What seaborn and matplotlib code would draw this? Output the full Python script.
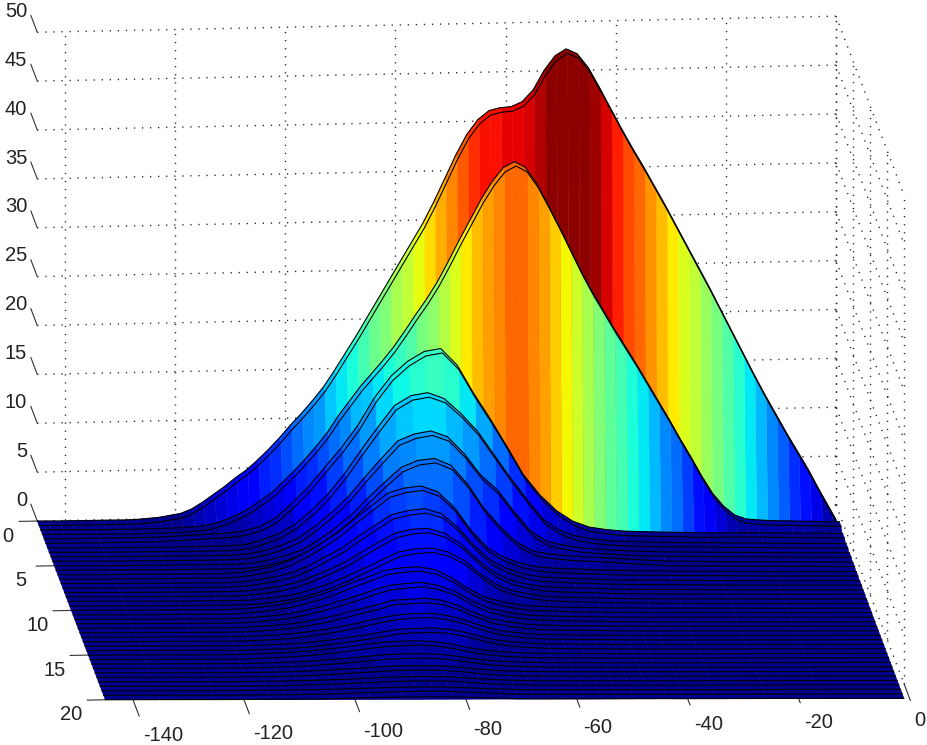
import matplotlib
matplotlib.use("Agg")
import matplotlib.pyplot as plt
import numpy as np
import seaborn as sns
from mpl_toolkits.mplot3d import proj3d
from mpl_toolkits.mplot3d.art3d import Poly3DCollection

# axis ticks
X_TICKS = [-140, -120, -100, -80, -60, -40, -20, 0]
Y_TICKS = [0, 5, 10, 15, 20]
Z_TICKS = [0, 5, 10, 15, 20, 25, 30, 35, 40, 45, 50]

# the two tall curves at the back are read on a fine grid
X_BACK = [-145, -143, -141, -139, -137, -135, -133, -131, -129, -127, -125, -123, -121, -119, -117, -115, -113, -111,
          -109, -107, -105, -103, -101, -99, -97, -95, -93, -91, -89, -87, -85, -83, -81, -79, -77, -75, -73, -71,
          -69, -67, -65, -63, -61, -59, -57, -55, -53, -51, -49, -47, -45, -43, -41, -39, -37, -35, -33, -31, -29,
          -27, -25, -23, -21, -19, -17, -15, -13, -11, -9, -7, -5, -3, -1, 0]
DRIFT_BACK = [0, -.02, -.04, -.06, -.08, -.10, -.12, -.14, -.17, -.19, -.21, -.23, -.25, -.27, -.29, -.31, -.33, -.35,
              -.37, -.39, -.41, -.43, -.46, -.48, -.50, -.52, -.54, -.56, -.58, -.60, -.62, -.64, -.66, -.68, -.70,
              -.72, -.74, -.77, -.79, -.81, -.83, -.85, -.87, -.89, -.91, -.93, -.95, -.97, -.99, -1.01, -1.03, -1.05,
              -1.08, -1.10, -1.12, -1.14, -1.16, -1.18, -1.20, -1.22, -1.24, -1.26, -1.28, -1.30, -1.32, -1.34, -1.37,
              -1.39, -1.41, -1.43, -1.45, -1.47, -1.49, -1.50]
ROW_00 = [0, 0, 0, .02, .03, .05, .07, .08, .1, .15, .25, .35, .55, .75, 1.2, 1.9, 2.7, 3.5, 4.4, 5.2, 6.2, 7.3, 8.5, 9.8,
          11, 12.3, 13.7, 15.4, 17.2, 19, 20.9, 22.8, 24.7, 26.6, 28.5, 30.4, 32.6, 35, 37.4, 39.5, 41, 41.9, 42.2,
          42.3, 42.8, 44, 46, 47.5, 48.2, 47.7, 46.3, 44.3, 42.2, 40.1, 38.1, 36.2, 34.2, 32.2, 30.1, 28, 25.9, 23.8,
          21.6, 19.4, 17.2, 15, 12.9, 10.9, 8.9, 7, 5.1, 3, 1, 0]
ROW_01 = [0, 0, 0, 0, 0, .01, .02, .03, .05, .07, .1, .13, .17, .22, .3, .45, .7, 1.1, 1.6, 2.2, 3, 3.8, 4.9, 6, 7.2,
          8.5, 9.9, 11.6, 13.1, 14.6, 15.9, 17.2, 18.6, 20.2, 21.9, 23.5, 25.3, 27.4, 29.6, 31.7, 33.8, 35.6, 37, 37.6,
          37, 35.4, 33.3, 31.1, 28.8, 26.5, 24.4, 22.5, 20.6, 18.8, 17, 15.1, 13.2, 11.3, 9.3, 7.4, 5.4, 3.6, 2.3,
          1.4, 1, .9, .85, .8, .8, .75, .75, .7, .7, .7]

# the lower curves
X_FRONT = [-145, -135, -125, -118, -115, -112, -109, -106, -103, -100, -97, -94, -91, -88, -85, -82, -79, -76, -73,
           -70, -67, -64, -61, -58, -55, -52, -49, -46, -43, -40, -34, -25, -15, 0]
DRIFT_FRONT = [0, -.10, -.21, -.28, -.31, -.34, -.37, -.41, -.44, -.47, -.50, -.53, -.56, -.59, -.62, -.65, -.68, -.71,
               -.74, -.78, -.81, -.84, -.87, -.90, -.93, -.96, -.99, -1.02, -1.05, -1.09, -1.15, -1.24, -1.34, -1.50]
ROW_02 = [0, .05, .15, .35, .45, .55, .75, 1.2, 2.1, 3.6, 5.3, 7.3, 9.3, 11.6, 14.4, 16.6, 18.1, 19.1, 19.4, 17.7, 14.8, 12.2, 9.4, 6.5, 4.4, 2.8, 1.7, 1.1, .85, .7, .6, .5, .5, .4]
ROW_03 = [0, 0, .05, .1, .12, .16, .3, .8, 1.4, 2.4, 3.8, 5.5, 7.6, 10, 12.3, 14.5, 15.5, 15.8, 15.2, 13.7, 11.9, 9.5, 7.1, 4.9, 2.8, 1.7, 1.1, .8, .63, .55, .45, .4, .35, .3]
ROW_04 = [0, 0, .04, .08, .1, .13, .26, .64, 1.15, 1.9, 3.1, 4.5, 6.1, 8.1, 10, 11.8, 12.5, 12.8, 12.2, 10.5, 8.3, 6.8, 4.6, 2.6, 1.5, 1.1, .83, .7, .58, .51, .4, .35, .3, .25]
ROW_05 = [0, 0, .03, .07, .09, .11, .22, .55, 1, 1.6, 2.6, 3.8, 5.2, 6.9, 8.5, 10, 10.7, 10.9, 10.2, 8.3, 5.8, 3.9, 2.3, 1.4, 1.1, .93, .82, .76, .65, .55, .35, .3, .27, .22]
ROW_06 = [0, 0, .04, .07, .09, .18, .45, .8, 1.35, 2.2, 3.2, 4.3, 5.7, 7, 8.3, 8.8, 9, 8.4, 6.8, 4.5, 2.7, 1.7, 1.1, .72, .58, .5, .45, .36, .32, .3, .27, .23, .18, .18]
ROW_07 = [0, 0, .03, .06, .08, .15, .38, .68, 1.1, 1.8, 2.7, 3.6, 4.8, 5.9, 7, 7.4, 7.6, 7.1, 5.7, 3.8, 2.3, 1.45, .9, .6, .5, .42, .38, .3, .27, .25, .23, .19, .15, .15]
ROW_08 = [0, 0, .03, .05, .07, .13, .33, .59, .98, 1.6, 2.3, 3.1, 4.1, 5.1, 6, 6.4, 6.5, 6, 4.9, 3.3, 2, 1.2, .78, .52, .42, .36, .33, .26, .23, .21, .2, .16, .13, .13]
ROW_09 = [0, 0, .02, .04, .05, .11, .27, .49, .81, 1.3, 1.9, 2.6, 3.4, 4.2, 5, 5.3, 5.4, 5, 4.1, 2.7, 1.6, 1, .65, .43, .35, .3, .27, .22, .19, .18, .16, .14, .11, .11]
ROW_10 = [0, 0, .03, .04, .09, .22, .4, .66, 1.06, 1.54, 2.1, 2.8, 3.4, 4.05, 4.3, 4.4, 4.1, 3.3, 2.2, 1.3, .84, .53, .35, .29, .24, .22, .18, .15, .15, .13, .13, .11, .09, .09]
ROW_11 = [0, 0, .02, .04, .07, .19, .33, .56, .89, 1.3, 1.8, 2.3, 2.9, 3.4, 3.6, 3.7, 3.4, 2.8, 1.85, 1.1, .7, .44, .3, .24, .2, .19, .15, .13, .12, .11, .11, .09, .07, .07]
ROW_12 = [0, 0, .02, .03, .06, .15, .27, .45, .72, 1.05, 1.44, 1.9, 2.3, 2.8, 2.9, 3, 2.8, 2.25, 1.5, .9, .57, .36, .24, .2, .17, .15, .12, .1, .1, .09, .09, .08, .06, .06]
ROW_13 = [0, 0, .01, .02, .05, .12, .22, .36, .58, .84, 1.15, 1.5, 1.9, 2.2, 2.35, 2.4, 2.2, 1.8, 1.2, .72, .46, .29, .19, .16, .13, .12, .1, .08, .08, .07, .07, .06, .05, .05]
ROW_14 = [0, 0, .01, .02, .04, .09, .16, .27, .43, .63, .86, 1.1, 1.4, 1.66, 1.76, 1.8, 1.67, 1.35, .9, .54, .34, .22, .14, .12, .1, .09, .07, .06, .06, .05, .05, .05, .04, .04]
ROW_15 = [0, 0, .01, .03, .07, .13, .21, .34, .49, .67, .88, 1.1, 1.29, 1.37, 1.4, 1.3, 1.05, .7, .42, .27, .17, .11, .09, .08, .07, .06, .05, .05, .04, .04, .04, .04, .03, .03]
ROW_16 = [0, 0, .01, .02, .05, .09, .15, .24, .35, .48, .63, .78, .92, .98, 1, .93, .75, .5, .3, .19, .12, .08, .065, .055, .05, .04, .035, .033, .03, .03, .03, .025, .02, .02]
ROW_17 = [0, 0, .01, .014, .035, .06, .1, .17, .25, .34, .44, .55, .64, .69, .7, .65, .53, .35, .21, .13, .08, .06, .045, .04, .035, .03, .025, .023, .02, .02, .02, .02, .014, .014]
ROW_18 = [0, 0, .004, .01, .025, .045, .075, .12, .18, .24, .32, .39, .46, .49, .5, .47, .38, .25, .15, .1, .06, .04, .03, .03, .025, .02, .02, .015, .015, .015, .015, .01, .01, .01]
ROW_19 = [0, 0, .003, .007, .018, .03, .05, .08, .12, .17, .22, .27, .32, .34, .35, .33, .26, .18, .11, .07, .04, .03, .02, .02, .02, .01, .01, .01, .01, .01, .01, .01, .01, .01]
ROW_20 = [0, 0, .002, .005, .012, .02, .04, .06, .09, .12, .16, .2, .23, .25, .25, .23, .19, .13, .08, .05, .03, .02, .02, .01, .01, .01, .01, .01, .01, .01, .01, .01, .01, .01]

BACK_ROWS = [ROW_00, ROW_01]
FRONT_ROWS = [ROW_02, ROW_03, ROW_04, ROW_05, ROW_06, ROW_07, ROW_08, ROW_09, ROW_10, ROW_11, ROW_12, ROW_13, ROW_14,
              ROW_15, ROW_16, ROW_17, ROW_18, ROW_19, ROW_20]

sns.set_theme(style="white")
plt.rcParams["font.family"] = ["Liberation Sans", "DejaVu Sans"]
jet = sns.mpl_palette("jet", 64)


# colour follows the height above the floor, the top of the map is reached just below the peak
def level_color(h):
    i = int(h / 46.5 * 64)
    return jet[min(max(i, 0), 63)]


# one curve: a narrow flat step, then a wall running down to the floor
def draw_row(ax, xs, heights, drift, y, order):
    xs = np.array(xs)
    floor = np.array(drift)
    hs = np.array(heights)
    zs = hs + floor
    y_step = min(y + 0.5, 20)
    y_foot = min(y + 1, 20)
    polys = []
    colors = []
    for i in range(len(xs) - 1):
        x0, x1 = xs[i], xs[i + 1]
        z0, z1 = zs[i], zs[i + 1]
        color = level_color((hs[i] + hs[i + 1]) / 2)
        polys.append([(x0, y, z0), (x1, y, z1), (x1, y_step, z1), (x0, y_step, z0)])
        polys.append([(x0, y_step, z0), (x1, y_step, z1), (x1, y_foot, floor[i + 1]), (x0, y_foot, floor[i])])
        colors += [color, color]
    ax.add_collection3d(Poly3DCollection(polys, facecolors=colors, edgecolors=colors, linewidths=0.3, zorder=order))
    ax.plot(xs, np.full(len(xs), y), zs, color="black", lw=0.8, zorder=order + 1)
    if y_step != y:
        ax.plot(xs, np.full(len(xs), y_step), zs, color="black", lw=0.8, zorder=order + 1)


# tick labels sit where the 3d point lands on the canvas
def tick_label(ax, x, y, z, text, ha):
    u, v, _ = proj3d.proj_transform(x, y, z, ax.get_proj())
    ax.text2D(u, v, text, transform=ax.transData, ha=ha, va="center", fontsize=14.5, color="#222222", zorder=200)


def draw_frame(ax):
    dots = dict(color="#222222", lw=1.0, ls=(0, (0.9, 4.9)), zorder=1)
    ticks = dict(color="#333333", lw=0.8, zorder=1)
    for z in Z_TICKS:
        ax.plot([-145, 0], [0, 0], [z, z], **dots)
        ax.plot([0, 0], [0, 20], [z, z], **dots)
        ax.plot([-145, -145], [0, -1.9], [z, z], **ticks)
        tick_label(ax, -145.4, -2.33, z, str(z), "right")
    for x in X_TICKS:
        ax.plot([x, x], [0, 0], [0, 50], **dots)
        ax.plot([x, x], [20, 21.9], [0, 0], **ticks)
        tick_label(ax, x - 0.7, 24.1, 0, str(x), "left")
    for y in Y_TICKS:
        ax.plot([0, 0], [y, y], [0, 50], **dots)
        ax.plot([-145, -148.3], [y, y], [0, 0], **ticks)
        # the first label would just run off the left edge
        tick_x = -151.4 if y == 0 else -152.1
        tick_label(ax, tick_x, y + 1.6, 0, str(y), "center")


def main():
    fig = plt.figure(figsize=(9.27, 7.45), dpi=100, facecolor="white")
    ax = fig.add_axes([-5.4 / 927, -89 / 745, 1, 927 / 745], projection="3d", proj_type="ortho")
    ax.computed_zorder = False
    ax.view_init(elev=13.3, azim=-95)
    ax.set_box_aspect((803, 781, 503), zoom=1.284)
    ax.set_xlim(-145, 0)
    ax.set_ylim(20, 0)
    ax.set_zlim(0, 50)
    ax.set_autoscale_on(False)

    draw_frame(ax)
    for k, row in enumerate(BACK_ROWS):
        draw_row(ax, X_BACK, row, DRIFT_BACK, k, 10 + 2 * k)
    for k, row in enumerate(FRONT_ROWS):
        draw_row(ax, X_FRONT, row, DRIFT_FRONT, k + 2, 14 + 2 * k)

    ax.set_xlim(-145, 0)
    ax.set_ylim(20, 0)
    ax.set_zlim(0, 50)
    ax.set_xticks([])
    ax.set_yticks([])
    ax.set_zticks([])
    ax.set_axis_off()
    fig.savefig("out.png", dpi=100)


if __name__ == "__main__":
    main()
